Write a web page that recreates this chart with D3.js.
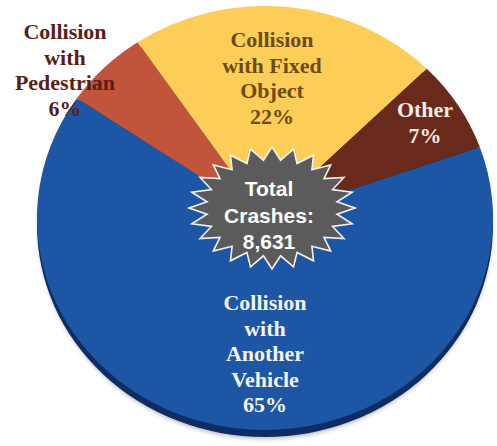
<!DOCTYPE html>
<html><head><meta charset="utf-8">
<script src="https://cdn.jsdelivr.net/npm/d3@7"></script>
<style>html,body{margin:0;padding:0;background:#fff;}svg{display:block;}</style>
</head><body>
<svg id="chart" width="497" height="446"></svg>
<script>
const categories = ["Collision with Another Vehicle", "Collision with Pedestrian", "Collision with Fixed Object", "Other"];
const values = [65, 6, 22, 7];
const labelLines = [
  ["Collision", "with", "Another", "Vehicle", "65%"],
  ["Collision", "with", "Pedestrian", "6%"],
  ["Collision", "with Fixed", "Object", "22%"],
  ["Other", "7%"]
];
const totalLines = ["Total", "Crashes:", "8,631"];

// styling / layout (not data)
const colors = ["#1d56a5", "#c1543b", "#fccd57", "#6a2a1b"];
const labelColors = ["#f4f4f4", "#5b1e15", "#6b4c12", "#f4ebe6"];
const labelPos = [[265, 310], [65, 39], [272, 47], [425, 117]];
const lineH = 25.5;

const svg = d3.select("#chart");
const cx = 265, cy = 218, rx = 228, ry = 212;

const pie = d3.pie().sort(null).value(d => d)
  .startAngle(1.229).endAngle(1.229 + 2 * Math.PI);
const arcs = pie(values);
const arc = d3.arc().innerRadius(0).outerRadius(rx);

const defs = svg.append("defs");
const blur = defs.append("filter").attr("id", "sh").attr("x", "-10%").attr("y", "-10%").attr("width", "120%").attr("height", "130%");
blur.append("feGaussianBlur").attr("stdDeviation", 2);

// shadow + side (3D depth)
svg.append("ellipse").attr("cx", cx).attr("cy", cy + 9).attr("rx", rx - 1).attr("ry", ry)
  .attr("fill", "#000").attr("opacity", 0.25).attr("filter", "url(#sh)");
svg.append("ellipse").attr("cx", cx).attr("cy", cy + 7).attr("rx", rx).attr("ry", ry)
  .attr("fill", "#0e2d63");

const g = svg.append("g").attr("transform", `translate(${cx},${cy}) scale(1,${ry / rx})`);
g.selectAll("path").data(arcs).join("path")
  .attr("d", arc)
  .attr("fill", (d, i) => colors[i]);

// labels
const lab = svg.append("g").attr("font-family", "'Liberation Serif', 'Times New Roman', serif")
  .attr("font-weight", "bold").attr("font-size", 22).attr("text-anchor", "middle");
labelLines.forEach((lines, i) => {
  const t = lab.append("text").attr("fill", labelColors[i]);
  lines.forEach((s, j) => {
    t.append("tspan").attr("x", labelPos[i][0]).attr("y", labelPos[i][1] + j * lineH).text(s);
  });
});

// star
const sx = 272, sy = 208, srx = 83, sry = 61, nPts = 24, inner = 0.79;
const starPts = d3.range(nPts * 2).map(k => {
  const a = k * Math.PI / nPts - Math.PI / 2;
  const f = k % 2 === 0 ? 1 : inner;
  return [sx + Math.cos(a) * srx * f, sy + Math.sin(a) * sry * f];
});
svg.append("path").attr("d", d3.line()(starPts) + "Z")
  .attr("fill", "#5b5b5b").attr("stroke", "#f2f2f2").attr("stroke-width", 1.6).attr("stroke-linejoin", "miter");

const tt = svg.append("text").attr("font-family", "'Liberation Sans', Arial, sans-serif")
  .attr("font-weight", "bold").attr("font-size", 21).attr("text-anchor", "middle").attr("fill", "#ffffff");
totalLines.forEach((s, j) => {
  tt.append("tspan").attr("x", 269).attr("y", 196 + j * 26.5).text(s);
});
</script>
</body></html>
